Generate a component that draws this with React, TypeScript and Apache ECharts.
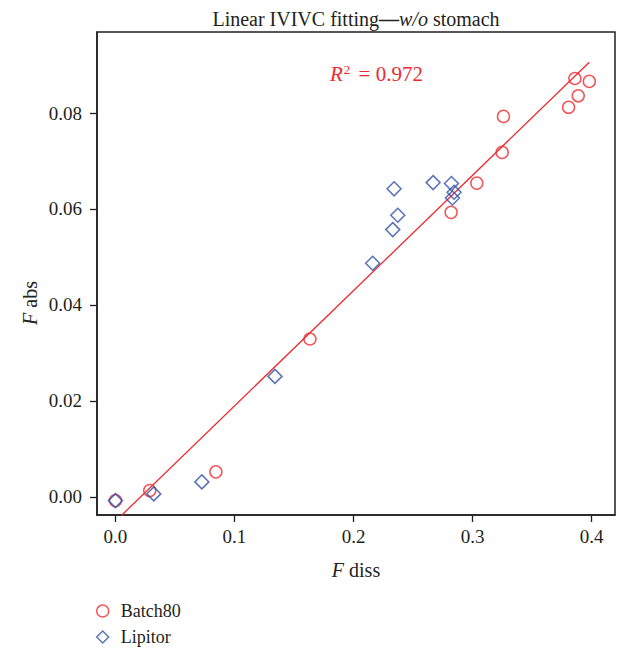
import React, { useEffect, useRef } from "react";
import * as echarts from "echarts";

// Fraction dissolved (x) vs fraction absorbed (y) for each formulation
const batchDiss = [0.0, 0.0288, 0.0844, 0.1634, 0.282, 0.3036, 0.3249, 0.326, 0.3807, 0.3888, 0.386, 0.3981];
const batchAbs = [-0.0008, 0.0013, 0.0052, 0.0329, 0.0593, 0.0654, 0.0718, 0.0793, 0.0812, 0.0836, 0.0872, 0.0866];
const lipitorDiss = [0.0, 0.0322, 0.0726, 0.134, 0.2161, 0.233, 0.2372, 0.2341, 0.2669, 0.2823, 0.2845, 0.2831];
const lipitorAbs = [-0.0008, 0.0006, 0.0031, 0.0251, 0.0487, 0.0557, 0.0587, 0.0642, 0.0655, 0.0653, 0.0635, 0.0623];

// Endpoints of the linear IVIVC regression line
const fitDiss = [0.005, 0.3981];
const fitAbs = [-0.0039, 0.0906];
const rSquared = "0.972";

const xTicks = [0, 0.1, 0.2, 0.3, 0.4];
const yTicks = [0, 0.02, 0.04, 0.06, 0.08];

const RED = "#ee2a2e";
const BLUE = "#2f4fa6";
const INK = "#231f20";
const FONT = "'Liberation Serif', 'DejaVu Serif', serif";

const pairs = (xs: number[], ys: number[]) => xs.map((x, i) => [x, ys[i]]);

export default function App() {
  const ref = useRef<HTMLDivElement>(null);

  useEffect(() => {
    if (!ref.current) return;
    const chart = echarts.init(ref.current, undefined, { renderer: "svg" });

    const axisCommon = {
      axisLine: { show: true, onZero: false, lineStyle: { color: INK, width: 1.5 } },
      axisTick: { show: true, inside: false, length: 7, lineStyle: { color: INK, width: 1.3 } },
      splitLine: { show: false },
    };

    chart.setOption({
      animation: false,
      backgroundColor: "#ffffff",
      textStyle: { fontFamily: FONT },
      grid: {
        left: 97,
        right: 2,
        top: 32,
        bottom: 134,
        show: true,
        borderColor: INK,
        borderWidth: 1.5,
        backgroundColor: "transparent",
      },
      xAxis: {
        type: "value",
        min: -0.0155,
        max: 0.4197,
        ...axisCommon,
        axisTick: { ...axisCommon.axisTick, customValues: xTicks },
        axisLabel: {
          customValues: xTicks,
          margin: 12,
          color: INK,
          fontFamily: FONT,
          fontSize: 19,
          formatter: (v: number) => v.toFixed(1),
        },
      },
      yAxis: {
        type: "value",
        min: -0.0038,
        max: 0.0969,
        ...axisCommon,
        axisTick: { ...axisCommon.axisTick, customValues: yTicks },
        axisLabel: {
          customValues: yTicks,
          margin: 15,
          color: INK,
          fontFamily: FONT,
          fontSize: 19,
          formatter: (v: number) => v.toFixed(2),
        },
      },
      legend: {
        orient: "vertical",
        left: 96,
        top: 602,
        height: 50,
        padding: 0,
        itemGap: 8,
        itemWidth: 12,
        itemHeight: 12,
        textStyle: { color: INK, fontFamily: FONT, fontSize: 18, lineHeight: 18, padding: [0, 0, 0, 7] },
        data: [
          {
            name: "Batch80",
            icon: "circle",
            itemStyle: { color: "transparent", borderColor: RED, borderWidth: 1.4 },
          },
          {
            name: "Lipitor",
            icon: "diamond",
            itemStyle: { color: "transparent", borderColor: BLUE, borderWidth: 1.4 },
          },
        ],
      },
      graphic: [
        {
          type: "text",
          x: 356,
          y: 19,
          style: {
            text: "Linear IVIVC fitting{b|—}{i|w/o} stomach",
            align: "center",
            verticalAlign: "middle",
            fill: INK,
            font: `20px ${FONT}`,
            rich: {
              i: { fontStyle: "italic", fontSize: 20, fontFamily: FONT, fill: INK },
              b: { fontWeight: "bold", fontSize: 20, fontFamily: FONT, fill: INK },
            },
          },
        },
        {
          type: "text",
          x: 330,
          y: 74,
          style: {
            text: "{i|R}{s|2} = " + rSquared,
            align: "left",
            verticalAlign: "middle",
            fill: RED,
            font: `21px ${FONT}`,
            rich: {
              i: { fontStyle: "italic", fontSize: 21, fontFamily: FONT, fill: RED },
              s: { fontSize: 13, fontFamily: FONT, fill: RED, verticalAlign: "top", padding: [0, 3, 9, 1] },
            },
          },
        },
        {
          type: "text",
          x: 356,
          y: 570,
          style: {
            text: "{i|F} diss",
            align: "center",
            verticalAlign: "middle",
            fill: INK,
            font: `20px ${FONT}`,
            rich: { i: { fontStyle: "italic", fontSize: 20, fontFamily: FONT, fill: INK } },
          },
        },
        {
          type: "text",
          x: 30,
          y: 303,
          rotation: Math.PI / 2,
          style: {
            text: "{i|F} abs",
            align: "center",
            verticalAlign: "middle",
            fill: INK,
            font: `20px ${FONT}`,
            rich: { i: { fontStyle: "italic", fontSize: 20, fontFamily: FONT, fill: INK } },
          },
        },
      ],
      series: [
        {
          name: "Fit",
          type: "line",
          data: pairs(fitDiss, fitAbs),
          symbol: "none",
          lineStyle: { color: RED, width: 1.3 },
          z: 1,
          silent: true,
        },
        {
          name: "Batch80",
          type: "scatter",
          data: pairs(batchDiss, batchAbs),
          symbol: "circle",
          symbolSize: 12,
          itemStyle: { color: "transparent", borderColor: RED, borderWidth: 1.5 },
          z: 2,
        },
        {
          name: "Lipitor",
          type: "scatter",
          data: pairs(lipitorDiss, lipitorAbs),
          symbol: "diamond",
          symbolSize: 14,
          itemStyle: { color: "transparent", borderColor: BLUE, borderWidth: 1.5 },
          z: 3,
        },
      ],
    });

    return () => chart.dispose();
  }, []);

  return (
    <div
      ref={ref}
      style={{ position: "fixed", left: 0, top: 0, width: 617, height: 649, background: "#fff" }}
    />
  );
}
